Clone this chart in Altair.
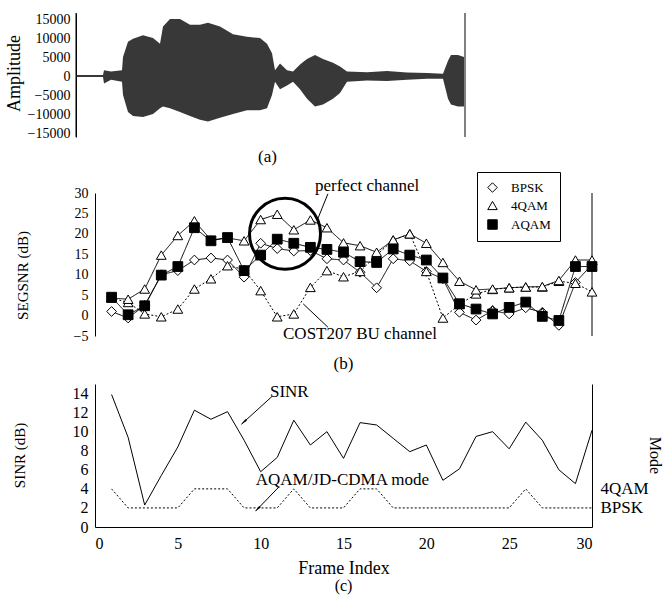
import altair as alt
import pandas as pd

FONT = "Liberation Serif"

# ---------------- (a) speech waveform: upper / lower envelope over time ----------------
wave_t = [0, 27, 28, 35, 46, 47, 52, 57, 67, 77, 84, 87, 94, 104, 114, 124, 132, 144, 157,
          171, 184, 191, 196, 199, 204, 211, 217, 224, 231, 239, 247, 257, 264, 271, 291,
          311, 331, 351, 367, 372, 375, 382, 388]
wave_hi = [250, 250, 1500, 1200, 1500, 5000, 9000, 9800, 10700, 10000, 8500, 13000, 15000,
           15000, 13500, 13500, 14000, 13000, 11000, 10300, 10000, 8500, 6000, 1500, 3300,
           1500, 1200, 3000, 4500, 5500, 4500, 3500, 2500, 1200, 1000, 1300, 900, 800, 600,
           4000, 5500, 5500, 5000]
wave_lo = [-250, -250, -2000, -1000, -1500, -5000, -9500, -10500, -10800, -10000, -8500, -8000,
           -8500, -9500, -10500, -11500, -12000, -11000, -10000, -9000, -9000, -8500, -5000,
           -1500, -3500, -2500, -1500, -3500, -6000, -8000, -7500, -6000, -4500, -1500, -1200,
           -1300, -1000, -700, -700, -6000, -7500, -8000, -8000]
WAVE_T_START = 0          # left-hand frame line of the waveform
WAVE_T_END = 389          # right-hand frame line of the waveform
WAVE_T_SPAN = 535         # time span covered by the (centred) panel width
AMP_DOMAIN = [-16050, 16579]
amp_ticks = [-15000, -10000, -5000, 0, 5000, 10000, 15000]

# ---------------- (b) segmental SNR per frame ----------------
frames = [1, 2, 3, 4, 5, 6, 7, 8, 9, 10, 11, 12, 13, 14, 15,
          16, 17, 18, 19, 20, 21, 22, 23, 24, 25, 26, 27, 28, 29, 30]
segsnr_bpsk = [1.0, -0.6, 2.5, 10.0, 11.0, 13.6, 14.1, 13.6, 9.4, 17.7, 16.4, 15.8, 15.9, 13.9,
               13.6, 10.6, 6.8, 13.9, 13.4, 10.8, 9.0, 0.8, -1.1, 1.2, 0.4, 1.9, 0.8, -2.4, 8.1, 12.5]
segsnr_4qam = [4.3, 4.0, 6.5, 14.8, 19.6, 23.2, 18.5, 19.0, 18.3, 23.5, 24.8, 21.0, 23.4, 21.5,
               17.8, 17.1, 15.5, 18.5, 20.0, 17.7, 13.0, 8.4, 6.3, 6.5, 6.8, 7.0, 7.1, 8.6, 13.6, 13.6]
segsnr_4qam_bu = [4.3, 3.2, 0.4, -0.3, 1.6, 6.5, 9.0, 12.2, 11.3, 6.1, -0.3, 0.4, 6.9, 11.0,
                  9.5, 10.8, 14.8, 18.5, 20.0, 10.8, -0.6, 2.7, 5.3, 6.4, 6.8, 7.0, 7.0, 8.4, 7.9, 5.8]
segsnr_aqam = [4.5, 0.2, 2.4, 9.9, 12.0, 21.5, 18.3, 19.1, 11.0, 14.8, 18.7, 17.7, 16.7, 16.2,
               15.5, 13.2, 13.0, 16.3, 14.8, 13.6, 9.2, 2.9, 1.6, 0.4, 2.0, 3.3, -0.2, -1.2, 12.0, 12.0]
extra_4qam_frames = [24, 27]
extra_4qam_values = [1.4, 0.8]
modulations = ["BPSK", "4QAM", "AQAM"]
segsnr_ticks = [-5, 0, 5, 10, 15, 20, 25, 30]

# ---------------- (c) SINR and chosen mode per frame ----------------
sinr = [13.9, 9.4, 2.3, 5.4, 8.4, 12.25, 11.3, 12.1, 9.1, 5.8, 7.3, 11.2, 8.6, 10.0, 7.2,
        10.95, 10.7, 9.3, 7.9, 8.6, 4.9, 6.1, 9.5, 10.0, 8.2, 11.0, 9.1, 6.0, 4.55, 10.15]
mode_level = [4, 2, 2, 2, 2, 4, 4, 4, 2, 2, 2, 4, 2, 2, 2,
              4, 4, 2, 2, 2, 2, 2, 2, 2, 2, 4, 2, 2, 2, 2]
sinr_ticks = [0, 2, 4, 6, 8, 10, 12, 14]
frame_ticks = [0, 5, 10, 15, 20, 25, 30]

# ---------------- annotations ----------------
b_labels = ["perfect channel", "COST207 BU channel"]
b_label_x = [13.28, 11.35]
b_label_y = [31.8, -4.4]
b_leader_x = [14.06, 12.57]
b_leader_y = [29.8, 2.86]
b_leader_x2 = [13.4, 14.06]
b_leader_y2 = [23.2, -2.85]
circle_x = [11.47]
circle_y = [20.0]

c_labels = ["SINR", "AQAM/JD-CDMA mode"]
c_label_x = [10.56, 9.7]
c_label_y = [14.2, 4.9]
c_arrow_x = [10.67, 11.1]
c_arrow_y = [13.67, 4.2]
c_arrow_x2 = [8.85, 9.7]
c_arrow_y2 = [10.8, 1.68]
c_head_x = [9.02, 9.86]
c_head_y = [11.07, 1.97]
c_head_angle = [228, 224]

# ======================= panel (a) =======================
# the amplitude scale only uses the upper 124 px of the 132 px panel
wave_df = pd.DataFrame({"t": wave_t, "hi": wave_hi, "lo": wave_lo})
xa_scale = alt.Scale(domain=[0, WAVE_T_SPAN], nice=False, zero=False)
ya_scale = alt.Scale(domain=AMP_DOMAIN, range=[124, 0], nice=False, zero=False)
ya_axis = alt.Axis(values=amp_ticks, format="d", title="Amplitude", labelFont=FONT,
                   titleFont=FONT, labelFontSize=14, titleFontSize=18,
                   domain=True, ticks=False, labelPadding=6,
                   titleX=-62, titleY=60, titleBaseline="middle")

wave = alt.Chart(wave_df).mark_area(color="#383838", interpolate="linear").encode(
    x=alt.X("t:Q", scale=xa_scale, axis=None),
    y=alt.Y("hi:Q", scale=ya_scale, axis=ya_axis),
    y2="lo:Q",
)
a_frame_df = pd.DataFrame({"t": [WAVE_T_START, WAVE_T_END],
                           "lo": [AMP_DOMAIN[0]] * 2, "hi": [AMP_DOMAIN[1]] * 2})
a_frame = alt.Chart(a_frame_df).mark_rule(color="black", strokeWidth=1).encode(
    x=alt.X("t:Q", scale=xa_scale, axis=None),
    y=alt.Y("lo:Q", scale=ya_scale, axis=ya_axis),
    y2="hi:Q",
)
panel_a = alt.layer(wave, a_frame).properties(
    width=WAVE_T_SPAN, height=132,
    title=alt.TitleParams("(a)", orient="bottom", anchor="middle", frame="group", fontSize=17,
                          baseline="middle", offset=12, dx=-76),
)

# ======================= panel (b) =======================
series = [
    ("bpsk", "BPSK", "perfect", segsnr_bpsk),
    ("qam4_bu", "4QAM", "bu", segsnr_4qam_bu),
    ("qam4", "4QAM", "perfect", segsnr_4qam),
    ("aqam", "AQAM", "perfect", segsnr_aqam),
]
rows = []
for name, mod, chan, vals in series:
    for f, v in zip(frames, vals):
        rows.append({"series": name, "mod": mod, "channel": chan, "frame": f, "value": v})
snr_df = pd.DataFrame(rows)
extra_df = pd.DataFrame({"series": "qam4_extra", "mod": "4QAM", "channel": "bu",
                         "frame": extra_4qam_frames, "value": extra_4qam_values})
pts_df = pd.concat([snr_df[snr_df["series"] != "aqam"], extra_df, snr_df[snr_df["series"] == "aqam"]])

xb_scale = alt.Scale(domain=[0, 30], nice=False, zero=False)
yb_scale = alt.Scale(domain=[-5, 30], nice=False, zero=False)
yb_axis = alt.Axis(values=segsnr_ticks, title="SEGSNR (dB)", labelFont=FONT, titleFont=FONT,
                   labelFontSize=14, titleFontSize=15,
                   domain=True, ticks=False, labelPadding=7,
                   titleX=-73, titleY=82, titleBaseline="middle")
xb = alt.X("frame:Q", scale=xb_scale, axis=None)
yb = alt.Y("value:Q", scale=yb_scale, axis=yb_axis)

lines_b = alt.Chart(snr_df).mark_line(color="black", strokeWidth=1).encode(
    x=xb, y=yb, detail="series:N",
    strokeDash=alt.StrokeDash("channel:N", scale=alt.Scale(domain=["perfect", "bu"],
                                                            range=[[1, 0], [2, 2]]), legend=None),
)
# legend is placed relative to the top level of the stacked layout
legend_b = alt.Legend(title=None, orient="none", legendX=401, legendY=159, padding=9,
                      strokeColor="black", fillColor="white", labelFontSize=13, labelFont=FONT,
                      labelColor="black", symbolSize=90, symbolStrokeWidth=1,
                      rowPadding=4, labelOffset=12)
pts_b = alt.Chart(pts_df).mark_point(filled=True, strokeWidth=1, size=95, opacity=1).encode(
    x=xb, y=yb,
    shape=alt.Shape("mod:N", scale=alt.Scale(domain=modulations,
                                             range=["diamond", "triangle-up", "square"]),
                    legend=legend_b),
    fill=alt.Fill("mod:N", scale=alt.Scale(domain=modulations, range=["white", "white", "black"]),
                  legend=legend_b),
    stroke=alt.Stroke("mod:N", scale=alt.Scale(domain=modulations, range=["black", "black", "black"]),
                      legend=legend_b),
)
b_frame_df = pd.DataFrame({"frame": [30], "value": [-5], "top": [30]})
b_frame = alt.Chart(b_frame_df).mark_rule(color="black", strokeWidth=1).encode(
    x=xb, y=yb, y2="top:Q")
circle_b = alt.Chart(pd.DataFrame({"frame": circle_x, "value": circle_y})).mark_point(
    shape="circle", size=5040, strokeWidth=3, color="black", filled=False, opacity=1).encode(x=xb, y=yb)
b_text_df = pd.DataFrame({"frame": b_label_x, "value": b_label_y, "label": b_labels})
text_b = alt.Chart(b_text_df).mark_text(align="left", baseline="middle", font=FONT, fontSize=17,
                                        color="black").encode(x=xb, y=yb, text="label:N")
b_lead_df = pd.DataFrame({"frame": b_leader_x, "value": b_leader_y,
                          "frame2": b_leader_x2, "value2": b_leader_y2})
lead_b = alt.Chart(b_lead_df).mark_rule(color="black", strokeWidth=1).encode(
    x=xb, y=yb, x2="frame2:Q", y2="value2:Q")

panel_b = alt.layer(b_frame, lines_b, pts_b, circle_b, lead_b, text_b).properties(
    width=497, height=143,
    title=alt.TitleParams("(b)", orient="bottom", anchor="middle", frame="group", fontSize=17,
                          baseline="middle", offset=21),
)

# ======================= panel (c) =======================
c_df = pd.DataFrame({"frame": frames, "sinr": sinr, "mode": mode_level})
xc_scale = alt.Scale(domain=[0, 30], nice=False, zero=False)
yc_scale = alt.Scale(domain=[0, 15], nice=False, zero=False)
xc_axis = alt.Axis(values=frame_ticks, title="Frame Index", labelFont=FONT, titleFont=FONT,
                   labelFontSize=16, titleFontSize=18,
                   domain=True, ticks=False, labelPadding=8, titleY=41, titleBaseline="middle")
yc_axis = alt.Axis(values=sinr_ticks, title="SINR (dB)", labelFont=FONT, titleFont=FONT,
                   labelFontSize=16, titleFontSize=15,
                   domain=True, ticks=False, labelPadding=7,
                   titleX=-76, titleY=71, titleBaseline="middle")
mode_axis = alt.Axis(orient="right", values=[2, 4], title="Mode",
                     labelExpr="datum.value == 4 ? '4QAM' : 'BPSK'", labelFont=FONT, titleFont=FONT,
                     labelFontSize=17, titleFontSize=16, titleAngle=90, domain=True, ticks=False,
                     labelPadding=8, titleX=62, titleY=71, titleBaseline="middle")
xc = alt.X("frame:Q", scale=xc_scale, axis=xc_axis)

sinr_line = alt.Chart(c_df).mark_line(color="black", strokeWidth=1).encode(
    x=xc, y=alt.Y("sinr:Q", scale=yc_scale, axis=yc_axis))
yc = alt.Y("value:Q", scale=yc_scale, axis=yc_axis)
c_text_df = pd.DataFrame({"frame": c_label_x, "value": c_label_y, "label": c_labels})
text_c = alt.Chart(c_text_df).mark_text(align="left", baseline="middle", font=FONT, fontSize=17,
                                        color="black").encode(x=xc, y=yc, text="label:N")
c_arrow_df = pd.DataFrame({"frame": c_arrow_x, "value": c_arrow_y,
                           "frame2": c_arrow_x2, "value2": c_arrow_y2})
arrow_c = alt.Chart(c_arrow_df).mark_rule(color="black", strokeWidth=1).encode(
    x=xc, y=yc, x2="frame2:Q", y2="value2:Q")
c_head_df = pd.DataFrame({"frame": c_head_x, "value": c_head_y, "angle": c_head_angle})
head_c = alt.Chart(c_head_df).mark_point(shape="wedge", size=70, filled=True, color="black",
                                         opacity=1).encode(
    x=xc, y=yc, angle=alt.Angle("angle:Q", scale=None))
mode_line = alt.Chart(c_df).mark_line(color="black", strokeWidth=1, strokeDash=[2, 2]).encode(
    x=xc, y=alt.Y("mode:Q", scale=yc_scale, axis=mode_axis))

panel_c = alt.layer(
    alt.layer(sinr_line, arrow_c, head_c, text_c), mode_line
).resolve_scale(y="independent").properties(
    width=497, height=143,
    title=alt.TitleParams("(c)", orient="bottom", anchor="middle", frame="group", fontSize=16,
                          baseline="middle", offset=9),
)

chart = alt.vconcat(panel_a, panel_b, panel_c, spacing=48, bounds="flush", center=True).properties(
    padding={"left": 5, "top": 12, "right": 2, "bottom": 2},
).configure_view(strokeWidth=0).configure_axis(
    labelFont=FONT, titleFont=FONT, titleFontWeight="normal", labelColor="black",
    titleColor="black", domainColor="black", domainWidth=1, grid=False,
).configure_title(font=FONT, fontWeight="normal", color="black").configure_legend(
    labelFont=FONT, labelColor="black",
)

chart.save("out.html", embed_options={"renderer": "svg", "actions": False})
